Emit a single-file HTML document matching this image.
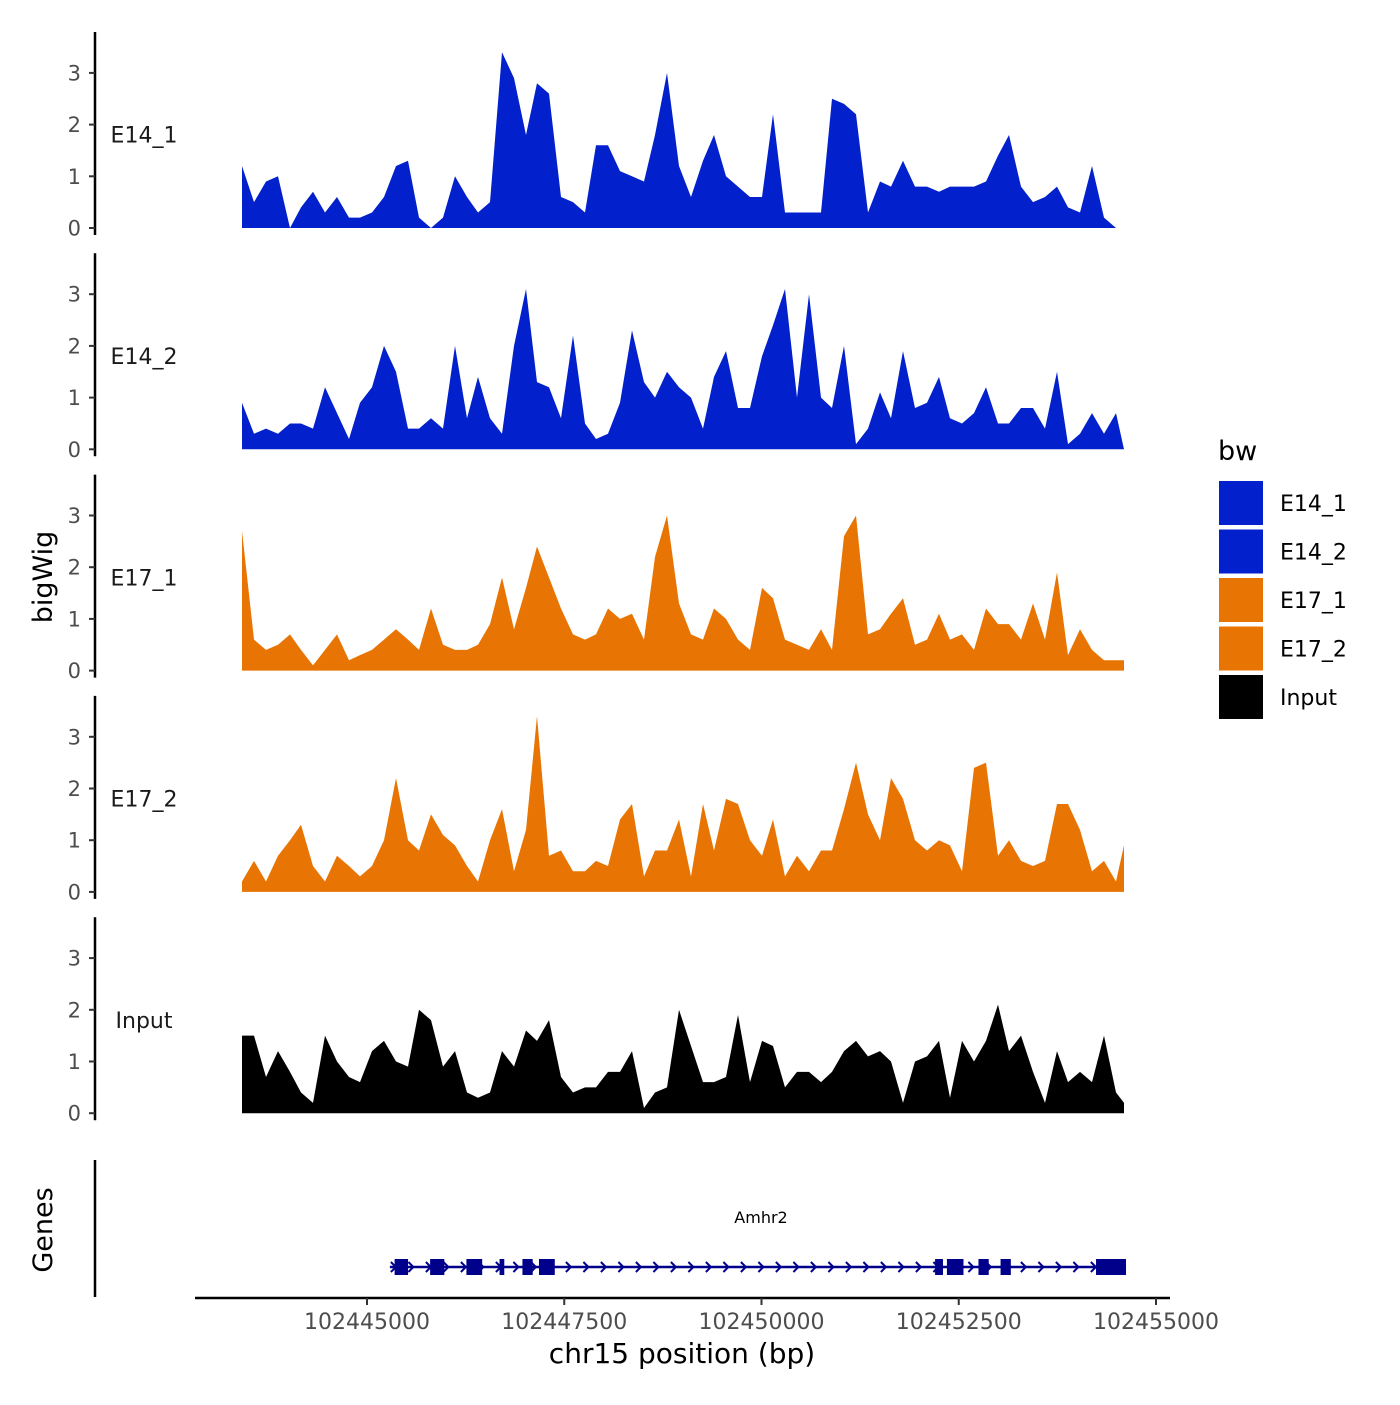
<!DOCTYPE html>
<html><head><meta charset="utf-8"><style>
body{margin:0;background:#fff;}
svg text{font-family:"DejaVu Sans","Liberation Sans",sans-serif;}
</style></head><body>
<svg id="chart" width="1400" height="1400" viewBox="0 0 1400 1400" xmlns="http://www.w3.org/2000/svg">
<rect width="1400" height="1400" fill="#fff"/>
<g id="tracks"></g>
<g id="genes"></g>
<g id="axes"></g>
<g id="legend"></g>
</svg>
<script>
const trackNames = ["E14_1","E14_2","E17_1","E17_2","Input"];
const trackColors = ["#0220CC","#0220CC","#E87503","#E87503","#000000"];
const samplePx = [242,254,266,278,290,301,313,325,337,349,360,372,384,396,408,419,431,443,455,467,478,490,502,514,526,537,549,561,573,585,596,608,620,632,644,655,667,679,691,703,714,726,738,750,762,773,785,797,809,821,832,844,856,868,880,891,903,915,927,939,950,962,974,986,998,1009,1021,1033,1045,1057,1068,1080,1092,1104,1116,1124];
const E14_1 = [1.2,0.5,0.9,1.0,0,0.4,0.7,0.3,0.6,0.2,0.2,0.3,0.6,1.2,1.3,0.2,0,0.2,1.0,0.6,0.3,0.5,3.4,2.9,1.8,2.8,2.6,0.6,0.5,0.3,1.6,1.6,1.1,1.0,0.9,1.8,3.0,1.2,0.6,1.3,1.8,1.0,0.8,0.6,0.6,2.2,0.3,0.3,0.3,0.3,2.5,2.4,2.2,0.3,0.9,0.8,1.3,0.8,0.8,0.7,0.8,0.8,0.8,0.9,1.4,1.8,0.8,0.5,0.6,0.8,0.4,0.3,1.2,0.2,0,0];
const E14_2 = [0.9,0.3,0.4,0.3,0.5,0.5,0.4,1.2,0.7,0.2,0.9,1.2,2.0,1.5,0.4,0.4,0.6,0.4,2.0,0.6,1.4,0.6,0.3,2.0,3.1,1.3,1.2,0.6,2.2,0.5,0.2,0.3,0.9,2.3,1.3,1.0,1.5,1.2,1.0,0.4,1.4,1.9,0.8,0.8,1.8,2.4,3.1,1.0,3.0,1.0,0.8,2.0,0.1,0.4,1.1,0.6,1.9,0.8,0.9,1.4,0.6,0.5,0.7,1.2,0.5,0.5,0.8,0.8,0.4,1.5,0.1,0.3,0.7,0.3,0.7,0];
const E17_1 = [2.7,0.6,0.4,0.5,0.7,0.4,0.1,0.4,0.7,0.2,0.3,0.4,0.6,0.8,0.6,0.4,1.2,0.5,0.4,0.4,0.5,0.9,1.8,0.8,1.6,2.4,1.8,1.2,0.7,0.6,0.7,1.2,1.0,1.1,0.6,2.2,3.0,1.3,0.7,0.6,1.2,1.0,0.6,0.4,1.6,1.4,0.6,0.5,0.4,0.8,0.4,2.6,3.0,0.7,0.8,1.1,1.4,0.5,0.6,1.1,0.6,0.7,0.4,1.2,0.9,0.9,0.6,1.3,0.6,1.9,0.3,0.8,0.4,0.2,0.2,0.2];
const E17_2 = [0.2,0.6,0.2,0.7,1.0,1.3,0.5,0.2,0.7,0.5,0.3,0.5,1.0,2.2,1.0,0.8,1.5,1.1,0.9,0.5,0.2,1.0,1.6,0.4,1.2,3.4,0.7,0.8,0.4,0.4,0.6,0.5,1.4,1.7,0.3,0.8,0.8,1.4,0.3,1.7,0.8,1.8,1.7,1.0,0.7,1.4,0.3,0.7,0.4,0.8,0.8,1.6,2.5,1.5,1.0,2.2,1.8,1.0,0.8,1.0,0.9,0.4,2.4,2.5,0.7,1.0,0.6,0.5,0.6,1.7,1.7,1.2,0.4,0.6,0.2,0.9];
const Input = [1.5,1.5,0.7,1.2,0.8,0.4,0.2,1.5,1.0,0.7,0.6,1.2,1.4,1.0,0.9,2.0,1.8,0.9,1.2,0.4,0.3,0.4,1.2,0.9,1.6,1.4,1.8,0.7,0.4,0.5,0.5,0.8,0.8,1.2,0.1,0.4,0.5,2.0,1.3,0.6,0.6,0.7,1.9,0.6,1.4,1.3,0.5,0.8,0.8,0.6,0.8,1.2,1.4,1.1,1.2,1.0,0.2,1.0,1.1,1.4,0.3,1.4,1.0,1.4,2.1,1.2,1.5,0.8,0.2,1.2,0.6,0.8,0.6,1.5,0.4,0.2];
const trackData = [E14_1,E14_2,E17_1,E17_2,Input];
const yTicks = [0,1,2,3];
const xTicks = [102445000,102447500,102450000,102452500,102455000];
const exonStarts = [102445350,102445800,102446260,102446680,102446970,102447180,102452200,102452350,102452750,102453030,102454240];
const exonEnds = [102445520,102445980,102446460,102446740,102447100,102447380,102452300,102452560,102452880,102453160,102454620];
const geneStart = 102445290, geneEnd = 102454620;

const NS="http://www.w3.org/2000/svg";
function mk(tag, attrs, parent){const e=document.createElementNS(NS,tag);for(const k in attrs)e.setAttribute(k,attrs[k]);parent.appendChild(e);return e;}
const xScale = bp => 367 + (bp-102445000)*(789/10000);
const pxToBp = px => 102445000 + (px-367)*10000/789;
const yScale = (v,i) => (228 + i*221.3) - v*51.7;

const tracks=document.getElementById('tracks');
const axes=document.getElementById('axes');
trackData.forEach((vals,i)=>{
  let d=`M${xScale(pxToBp(samplePx[0]))},${yScale(0,i)}`;
  vals.forEach((v,j)=>{d+=` L${xScale(pxToBp(samplePx[j]))},${yScale(v,i)}`;});
  d+=` L${xScale(pxToBp(samplePx[samplePx.length-1]))},${yScale(0,i)} Z`;
  const p=mk('path',{d:d,fill:trackColors[i]},tracks);
  
  
  const top=yScale(0,i)-196, bot=yScale(0,i)+7;
  const ax=mk('line',{x1:95,x2:95,y1:top,y2:bot,stroke:'#000','stroke-width':2.5},axes);
  
  
  yTicks.forEach(t=>{
    const y=yScale(t,i);
    mk('line',{x1:89,x2:95,y1:y,y2:y,stroke:'#333','stroke-width':2},axes);
    const tx=mk('text',{x:81,y:y+7.5,'text-anchor':'end','font-size':21,fill:'#4d4d4d'},axes);
    tx.textContent=t;
    
    
  });
  const lb=mk('text',{x:144,y:yScale(1.65,i),'text-anchor':'middle','font-size':22,fill:'#1a1a1a'},axes);
  lb.textContent=trackNames[i];
  
  
});

// genes
const genes=document.getElementById('genes');
const gy=1267;
const gl=mk('line',{x1:xScale(geneStart),x2:xScale(geneEnd),y1:gy,y2:gy,stroke:'#00008B','stroke-width':2.5},genes);


for(let x=xScale(geneStart)+4;x<xScale(geneEnd);x+=17.5){
  mk('path',{d:`M${x-3},${gy-5} L${x+2},${gy} L${x-3},${gy+5}`,fill:'none',stroke:'#00008B','stroke-width':2},genes);
}
exonStarts.forEach((s,k)=>{
  const r=mk('rect',{x:xScale(s),y:gy-8,width:xScale(exonEnds[k])-xScale(s),height:16,fill:'#00008B'},genes);
  
  
});
const gn=mk('text',{x:761,y:1223,'text-anchor':'middle','font-size':16,fill:'#000'},genes);
gn.textContent='Amhr2';


const ga=mk('line',{x1:95,x2:95,y1:1160,y2:1297,stroke:'#000','stroke-width':2.5},axes);



// x axis
const xa=mk('line',{x1:195,x2:1170,y1:1298,y2:1298,stroke:'#000','stroke-width':2.5},axes);


xTicks.forEach(t=>{
  const x=xScale(t);
  mk('line',{x1:x,x2:x,y1:1298,y2:1305,stroke:'#333','stroke-width':2},axes);
  const tx=mk('text',{x:x,y:1329,'text-anchor':'middle','font-size':22,fill:'#4d4d4d'},axes);
  tx.textContent=t;
  
  
});
const xt=mk('text',{x:682,y:1363,'text-anchor':'middle','font-size':28,fill:'#000'},axes);
xt.textContent='chr15 position (bp)';


const yt=mk('text',{x:0,y:0,'text-anchor':'middle','font-size':27,fill:'#000',transform:'translate(52,577) rotate(-90)'},axes);
yt.textContent='bigWig';


const gt=mk('text',{x:0,y:0,'text-anchor':'middle','font-size':27,fill:'#000',transform:'translate(52,1230) rotate(-90)'},axes);
gt.textContent='Genes';



// legend
const lg=document.getElementById('legend');
const lt=mk('text',{x:1218,y:460,'font-size':27,fill:'#000'},lg);
lt.textContent='bw';


trackNames.forEach((n,i)=>{
  const y=481+i*48.5;
  const r=mk('rect',{x:1219,y:y,width:44,height:44,fill:trackColors[i]},lg);
  
  
  const t=mk('text',{x:1280,y:y+30,'font-size':22,fill:'#000'},lg);
  t.textContent=n;
  
  
});
</script>
</body></html>
